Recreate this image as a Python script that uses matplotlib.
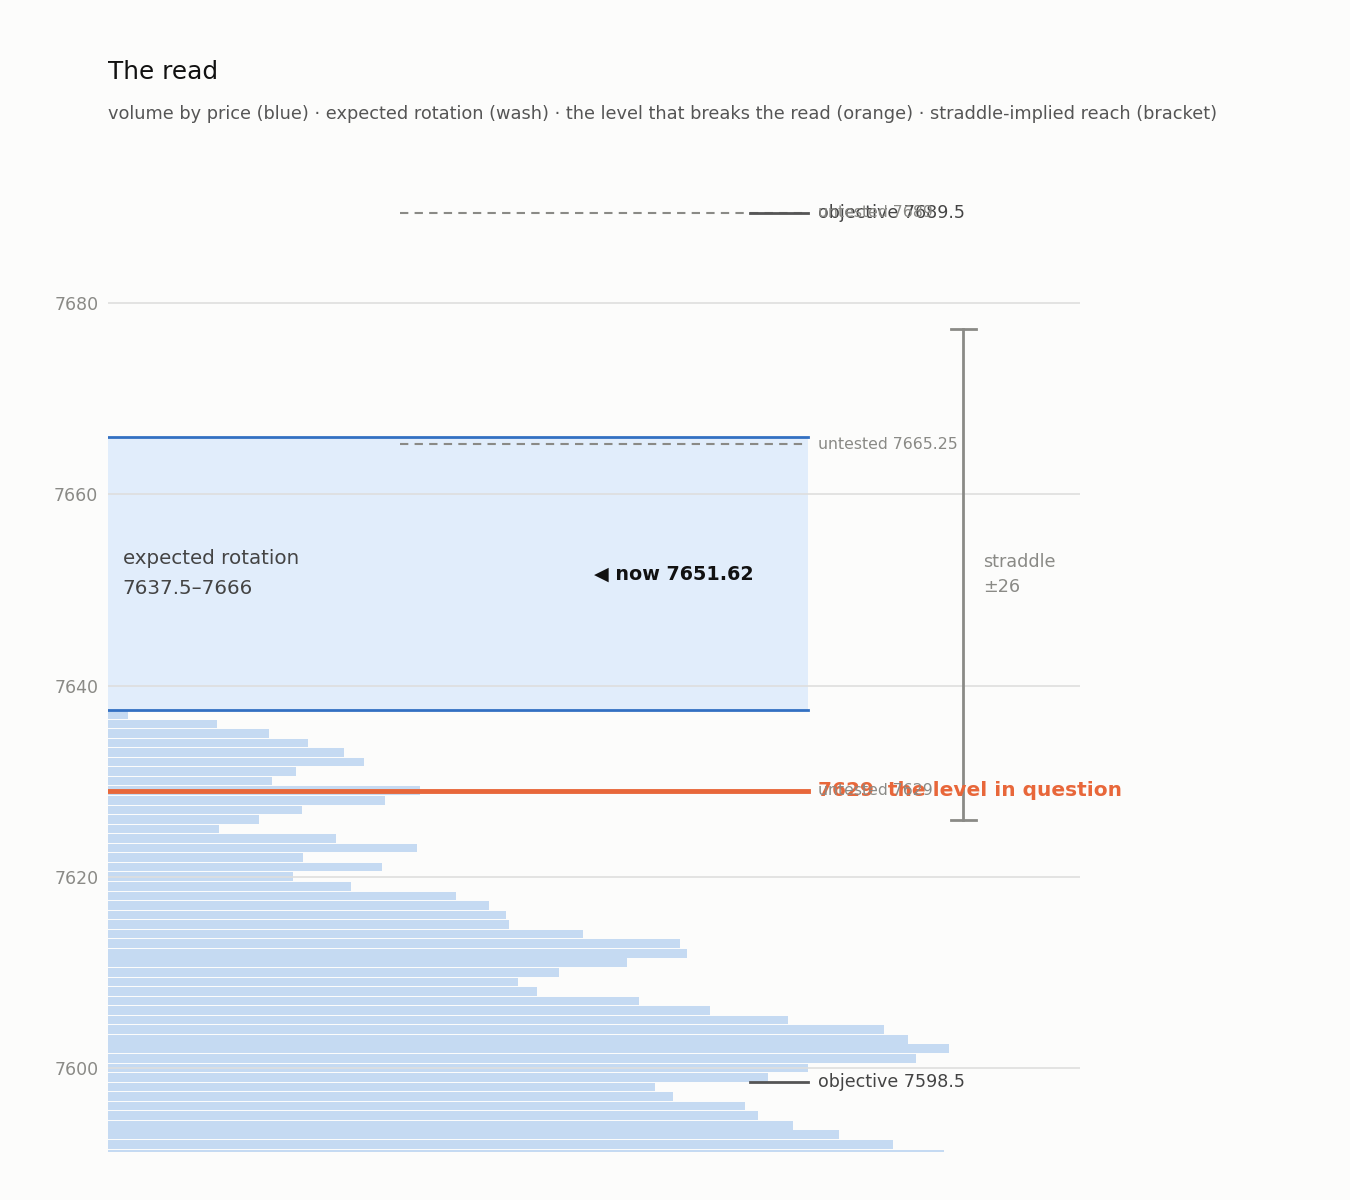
import numpy as np
import matplotlib.pyplot as plt
import matplotlib.transforms as mtransforms

# volume by price (1 pt rows, top to bottom)
prices = list(range(7637, 7590, -1))
volume = [20, 109, 161, 200, 236, 256, 188, 164, 312, 277, 194, 151, 111, 228,
          309, 195, 274, 185, 243, 348, 381, 398, 401, 475, 572, 579, 519, 451,
          410, 429, 531, 602, 680, 776, 800, 841, 808, 700, 660, 547, 565, 637,
          650, 685, 731, 785, 836]

rot_low = 7637.5
rot_high = 7666
now_px = 7651.62
key_level = 7629
straddle = 25.7

untested = [7689.5, 7665.25, 7629]
untested_labels = ["untested 7689", "untested 7665.25", "untested 7629"]
objectives = [7689.5, 7598.5]
objective_labels = ["objective 7689.5", "objective 7598.5"]

bg = "#fcfcfb"
bar_c = "#c5daf2"
wash_c = "#e1edfb"
blue = "#3370c2"
orange = "#e8673a"
grey = "#8a8a86"

fig = plt.figure(figsize=(13.5, 12), dpi=100, facecolor=bg)
ax = fig.add_axes([0.08, 0.04, 0.72, 0.8267])
ax.set_facecolor(bg)

ax.barh(prices, volume, height=0.9, color=bar_c, zorder=1)
ax.set_xlim(0, 972)
ax.set_ylim(7591.2, 7695)

tr = mtransforms.blended_transform_factory(ax.transAxes, ax.transData)
xr = 0.72

# expected rotation wash
ax.axhspan(rot_low, rot_high, xmin=0, xmax=xr, color=wash_c, zorder=0.5, lw=0)
ax.plot([0, xr], [rot_high, rot_high], transform=tr, color=blue, lw=2, zorder=3)
ax.plot([0, xr], [rot_low, rot_low], transform=tr, color=blue, lw=2, zorder=3)
ax.text(0.015, (rot_low + rot_high) / 2,
        "expected rotation\n" + f"{rot_low:g}\u2013{rot_high:g}",
        transform=tr, ha="left", va="center", fontsize=14.3, color="#444444",
        linespacing=1.7, zorder=5)
ax.text(0.5, now_px, f"\u25c0 now {now_px:.2f}", transform=tr, ha="left",
        va="center", fontsize=13.8, fontweight="bold", color="#111111", zorder=5)

# level that breaks the read
ax.plot([0, xr], [key_level, key_level], transform=tr, color=orange, lw=3.5, zorder=4)
ax.text(xr + 0.01, key_level, f"{key_level}  the level in question", transform=tr,
        ha="left", va="center", fontsize=14.5, fontweight="bold", color=orange, zorder=5)

# objectives
for lv, lab in zip(objectives, objective_labels):
    ax.plot([0.66, xr], [lv, lv], transform=tr, color="#555555", lw=2, zorder=4)
    ax.text(xr + 0.01, lv, lab, transform=tr, ha="left", va="center",
            fontsize=12.6, color="#444444", zorder=5)

# untested levels
for lv, lab in zip(untested, untested_labels):
    ax.plot([0.30, 0.717], [lv, lv], transform=tr, color=grey, lw=1.5,
            ls=(0, (4, 3)), zorder=3.5)
    ax.text(xr + 0.01, lv, lab, transform=tr, ha="left", va="center",
            fontsize=11.3, color=grey, zorder=6)

# straddle bracket
bx = 0.88
lo, hi = now_px - straddle, now_px + straddle
ax.plot([bx, bx], [lo, hi], transform=tr, color=grey, lw=2, zorder=4)
for yy in (lo, hi):
    ax.plot([bx - 0.013, bx + 0.013], [yy, yy], transform=tr, color=grey, lw=2, zorder=4)
ax.text(bx + 0.02, now_px, f"straddle\n\u00b1{straddle:.0f}", transform=tr,
        ha="left", va="center", fontsize=12.7, color=grey, linespacing=1.55, zorder=5)

ax.set_yticks([7600, 7620, 7640, 7660, 7680])
ax.set_xticks([])
ax.tick_params(axis="y", length=0, pad=7, labelsize=12.5, labelcolor=grey)
ax.grid(axis="y", color="#dedede", lw=1.2, zorder=2)
ax.set_axisbelow(False)
for s in ax.spines.values():
    s.set_visible(False)

fig.text(0.08, 0.94, "The read", fontsize=17.8, color="#111111", ha="left", va="center")
fig.text(0.08, 0.905, "volume by price (blue) \u00b7 expected rotation (wash) \u00b7 the level "
         "that breaks the read (orange) \u00b7 straddle-implied reach (bracket)",
         fontsize=12.8, color="#555555", ha="left", va="center")

fig.savefig("out.png", dpi=100, facecolor=bg)
